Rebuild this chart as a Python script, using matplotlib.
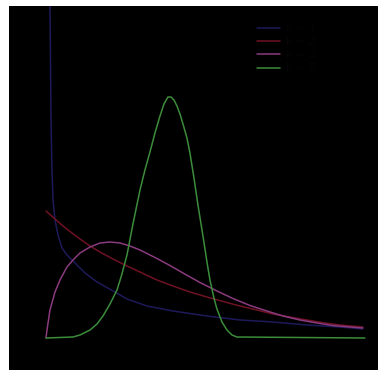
import numpy as np
import matplotlib
matplotlib.use("Agg")
import matplotlib.pyplot as plt

# curves (x in 0..10, density)
blue_x = [0.119, 0.125, 0.141, 0.157, 0.188, 0.219, 0.282, 0.376, 0.502, 0.658, 0.846,
          1.223, 1.599, 2.163, 2.539, 3.166, 3.981, 5.047, 6.082, 7.116, 8.182, 9.216, 9.937]
blue_y = [0.75, 0.664, 0.556, 0.436, 0.336, 0.276, 0.236, 0.206, 0.18, 0.166, 0.154,
          0.13, 0.112, 0.092, 0.078, 0.064, 0.054, 0.044, 0.036, 0.032, 0.026, 0.022, 0.018]

red_x = [0.0, 0.282, 0.533, 0.815, 1.066, 1.379, 1.693, 2.100, 2.539, 2.947, 3.480, 3.981,
         4.514, 5.047, 5.611, 6.082, 6.614, 7.116, 7.649, 8.182, 8.746, 9.216, 9.937]
red_y = [0.254, 0.238, 0.224, 0.21, 0.198, 0.184, 0.172, 0.158, 0.144, 0.132, 0.116, 0.104,
         0.092, 0.082, 0.072, 0.064, 0.056, 0.048, 0.042, 0.036, 0.03, 0.026, 0.022]

mag_x = [0.0, 0.031, 0.125, 0.282, 0.439, 0.658, 0.846, 1.066, 1.379, 1.693, 2.006, 2.320,
         2.633, 2.947, 3.480, 3.887, 4.295, 4.828, 5.361, 5.862, 6.395, 6.928, 7.429,
         7.962, 8.495, 8.997, 9.530, 9.937]
mag_y = [0.0, 0.016, 0.056, 0.092, 0.116, 0.142, 0.156, 0.17, 0.182, 0.19, 0.192, 0.19,
         0.184, 0.176, 0.159, 0.145, 0.13, 0.111, 0.094, 0.079, 0.065, 0.054, 0.044,
         0.036, 0.03, 0.025, 0.022, 0.02]

green_x = [0.0, 0.846, 1.066, 1.379, 1.599, 1.787, 2.006, 2.226, 2.382, 2.539, 2.727,
           2.947, 3.103, 3.260, 3.417, 3.574, 3.699, 3.824, 3.918, 4.013, 4.107, 4.201,
           4.295, 4.420, 4.514, 4.639, 4.765, 4.922, 5.047, 5.141, 5.266, 5.361, 5.517,
           5.674, 5.831, 5.987, 10.0]
green_y = [0.0, 0.002, 0.006, 0.016, 0.028, 0.044, 0.068, 0.096, 0.128, 0.166, 0.228,
           0.296, 0.336, 0.372, 0.41, 0.444, 0.468, 0.482, 0.482, 0.476, 0.464, 0.448,
           0.428, 0.4, 0.37, 0.32, 0.266, 0.204, 0.152, 0.116, 0.08, 0.058, 0.032,
           0.016, 0.006, 0.002, 0.0]

labels = ["k = 1", "k = 2", "k = 3", "k = 5"]
colors = ["#1e1a5a", "#6e1224", "#8a3a7e", "#3c8c3c"]

fig = plt.figure(figsize=(3.78, 3.72), dpi=100, facecolor="white")
ax = fig.add_axes([9 / 378, 2 / 372, 369 / 378, 364 / 372])
ax.set_facecolor("black")

series = [(blue_x, blue_y), (red_x, red_y), (mag_x, mag_y), (green_x, green_y)]
for (xs, ys), c, lab in zip(series, colors, labels):
    ax.plot(xs, ys, color=c, lw=1.1, label=lab,
            solid_joinstyle="round", solid_capstyle="round")

ax.set_xlim(-1.16, 10.41)
ax.set_ylim(-0.064, 0.664)
for s in ax.spines.values():
    s.set_visible(False)
ax.set_xticks([])
ax.set_yticks([])

leg = ax.legend(loc="upper left", bbox_to_anchor=(0.672, 0.952), frameon=False,
                fontsize=8, handlelength=2.1, labelspacing=0.3, borderpad=0,
                borderaxespad=0, handletextpad=0.5)
for t in leg.get_texts():
    t.set_color("#050505")

fig.savefig("out.png", dpi=100, facecolor="white")
